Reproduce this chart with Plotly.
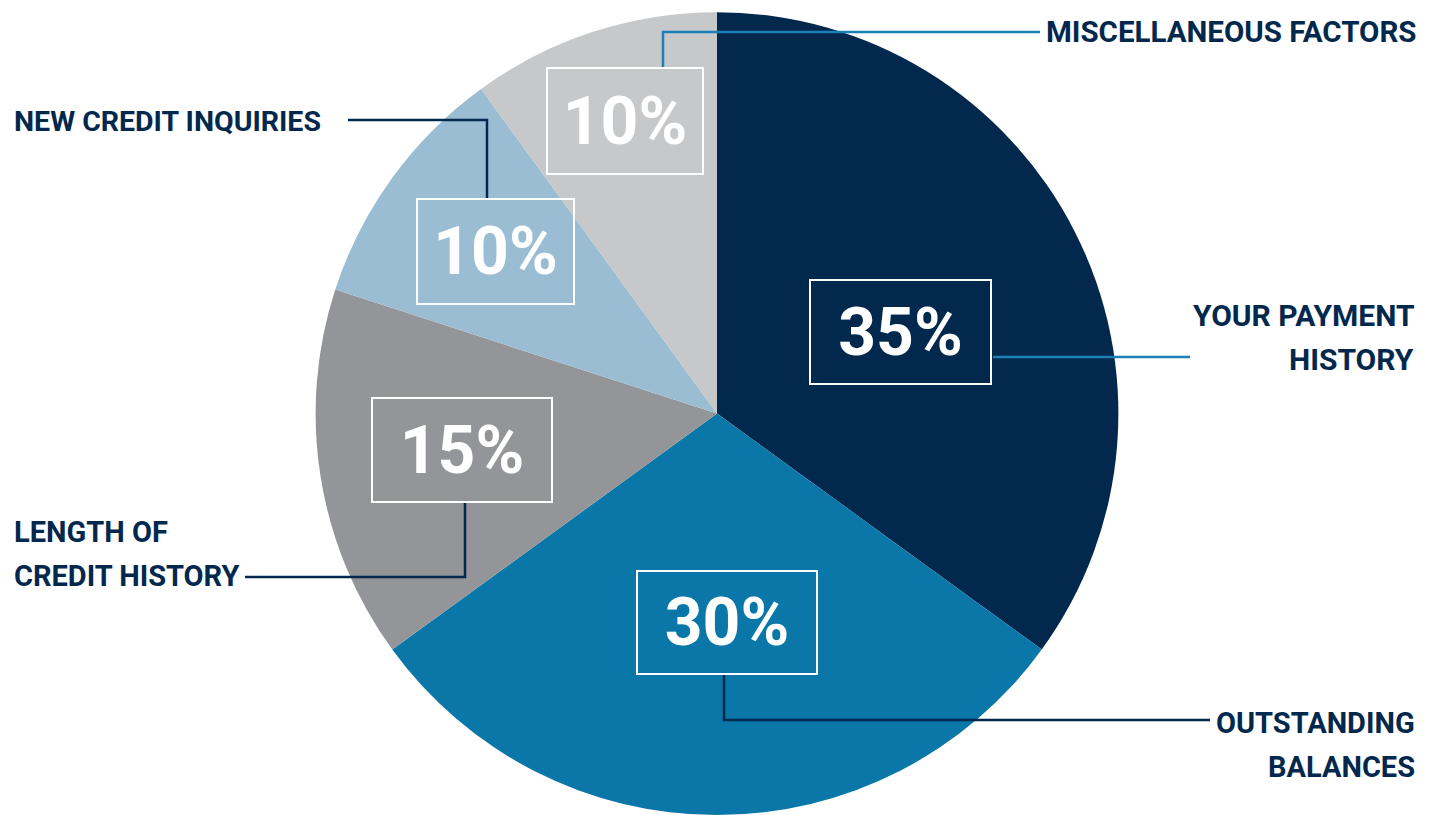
import plotly.graph_objects as go

W, H = 1437, 815

categories = ["YOUR PAYMENT HISTORY", "OUTSTANDING BALANCES", "LENGTH OF CREDIT HISTORY",
              "NEW CREDIT INQUIRIES", "MISCELLANEOUS FACTORS"]
values = [35, 30, 15, 10, 10]
label_lines = [["YOUR PAYMENT", "HISTORY"], ["OUTSTANDING", "BALANCES"], ["LENGTH OF", "CREDIT HISTORY"],
               ["NEW CREDIT INQUIRIES"], ["MISCELLANEOUS FACTORS"]]
colors = ["#03284d", "#0b77a8", "#939598", "#9bbdd4", "#c6c8ca"]

FONT = "Roboto, Liberation Sans, sans-serif"
NAVY = "#03284d"
LIGHT = "#1b80b8"

def px(x):
    return x / W

def py(y):
    return 1 - y / H

fig = go.Figure(go.Pie(
    values=values, labels=categories, sort=False, direction="clockwise", rotation=0,
    textinfo="none", hoverinfo="label+percent",
    marker=dict(colors=colors, line=dict(width=0)),
    domain=dict(x=[px(717 - 430), px(717 + 430)], y=[0, 0.985]),
))

# percent boxes: (center x, center y, width, height)
boxes = [(901, 332, 183, 106), (727, 622, 182, 105), (462, 450, 182, 106),
         (495, 251, 159, 107), (625, 121, 158, 108)]
annotations = []
for v, (cx, cy, bw, bh) in zip(values, boxes):
    annotations.append(dict(
        text=f"{v}%", x=px(cx), y=py(cy), xref="paper", yref="paper",
        xanchor="center", yanchor="middle", showarrow=False,
        width=bw - 4, height=bh - 4, borderwidth=2, bordercolor="white", borderpad=0,
        font=dict(family=FONT, size=66, color="white", weight=700),
    ))

# category labels: (x, first-line center y, anchor, font size)
label_pos = [(1416, 315, "right", 30), (1417, 723, "right", 29), (12, 532, "left", 29),
             (12, 121, "left", 28.5), (1418, 32, "right", 29.5)]
LINE_GAP = 44
for lines, (x, y, a, s) in zip(label_lines, label_pos):
    for i, t in enumerate(lines):
        annotations.append(dict(
            text=t, x=px(x), y=py(y + i * LINE_GAP), xref="paper", yref="paper",
            xanchor=a, yanchor="middle", align=a, showarrow=False,
            font=dict(family=FONT, size=s, color=NAVY, weight=700),
        ))

# leader lines (pixel paths)
leaders = [
    ([(993, 357), (1190, 357)], LIGHT),
    ([(724, 675), (724, 720), (1210, 720)], NAVY),
    ([(465, 503), (465, 577), (245, 577)], NAVY),
    ([(348, 120), (487, 120), (487, 198)], NAVY),
    ([(663, 67), (663, 32), (1040, 32)], LIGHT),
]
shapes = []
for pts, c in leaders:
    path = "M " + " L ".join(f"{px(x)},{py(y)}" for x, y in pts)
    shapes.append(dict(type="path", path=path, xref="paper", yref="paper",
                       line=dict(color=c, width=2.5)))

fig.update_layout(
    width=W, height=H, margin=dict(l=0, r=0, t=0, b=0),
    paper_bgcolor="white", plot_bgcolor="white", showlegend=False,
    annotations=annotations, shapes=shapes,
)

fig.write_html("out.html")
